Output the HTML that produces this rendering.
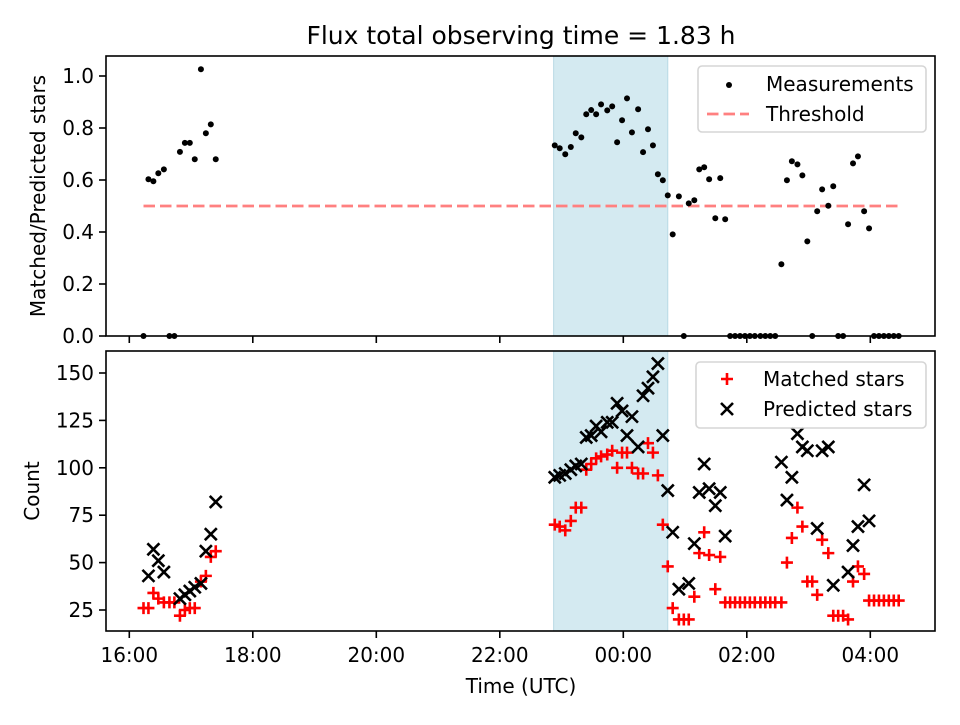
<!DOCTYPE html>
<html><head><meta charset="utf-8"><style>
html,body{margin:0;padding:0;background:#fff;}
svg text{font-family:"DejaVu Sans","Liberation Sans",sans-serif;fill:#000;}
</style></head><body>
<svg id="chart" width="960" height="720" viewBox="0 0 960 720" xmlns="http://www.w3.org/2000/svg">
<rect width="960" height="720" fill="#fff"/>
<text x="521" y="44" font-size="25" text-anchor="middle">Flux total observing time = 1.83 h</text>
<g id="top"></g>
<g id="bot"></g>
</svg>
<script>
// hours since 16:00 UTC
const hours=[0.23,0.31,0.39,0.47,0.56,0.65,0.73,0.82,0.90,0.98,1.06,1.16,1.24,1.32,1.40,
6.89,6.97,7.06,7.15,7.23,7.32,7.40,7.48,7.56,7.64,7.74,7.82,7.90,7.98,8.06,8.14,8.24,8.32,8.40,8.48,8.56,8.64,8.72,8.80,8.90,8.98,9.06,9.15,9.23,9.31,9.39,9.49,9.57,9.65,
9.73,9.81,9.89,9.97,10.05,10.13,10.22,10.30,10.38,10.46,
10.56,10.65,10.73,10.82,10.90,10.98,11.06,11.14,11.22,11.32,11.40,11.48,11.56,11.64,11.72,11.80,11.90,11.98,
12.06,12.14,12.22,12.30,12.38,12.46];
const ratio=[0,0.603,0.595,0.626,0.641,0,0,0.708,0.743,0.743,0.680,1.026,0.780,0.814,0.680,
0.733,0.722,0.699,0.727,0.780,0.764,0.853,0.869,0.853,0.891,0.868,0.883,0.745,0.830,0.914,0.783,0.872,0.707,0.795,0.733,0.622,0.599,0.541,0.391,0.537,0,0.510,0.522,0.641,0.649,0.603,0.453,0.607,0.449,
0,0,0,0,0,0,0,0,0,0,
0.276,0.599,0.672,0.660,0.618,0.364,0,0.480,0.564,0.501,0.576,0,0,0.430,0.664,0.691,0.480,0.414,
0,0,0,0,0,0];
const matched=[26,26,34,31,29,29,29,22,25,26,26,40,43,53,56,
70,69,67,72,79,79,99,102,105,106,107,109,100,108,108,100,97,97,113,108,96,70,48,26,20,20,20,32,55,66,54,36,53,29,
29,29,29,29,29,29,29,29,29,29,
29,50,63,79,69,40,40,33,62,55,22,22,22,20,40,48,44,30,
30,30,30,30,30,30];
const predicted=[null,43,57,51,45,null,null,31,33,35,37,39,56,65,82,
95,96,97,99,101,102,116,117,122,119,124,124,134,130,117,127,111,138,142,148,155,117,88,66,36,null,39,60,87,102,89,80,87,64,
null,null,null,null,null,null,null,null,null,null,
103,83,95,118,111,109,null,68,109,111,38,null,null,45,59,69,91,72,
null,null,null,null,null,null];
const threshold=0.5;
const spanStart=6.872, spanEnd=8.72;
const xTickHours=[0,2,4,6,8,10,12];
const xTickLabels=["16:00","18:00","20:00","22:00","00:00","02:00","04:00"];
const topTicks=[0,0.2,0.4,0.6,0.8,1.0];
const topTickLabels=["0.0","0.2","0.4","0.6","0.8","1.0"];
const botTicks=[25,50,75,100,125,150];

const NS="http://www.w3.org/2000/svg";
function mk(parent,tag,attrs){const e=document.createElementNS(NS,tag);for(const k in attrs)e.setAttribute(k,attrs[k]);parent.appendChild(e);return e;}
const L=106,R=935;
const xS=h=>129.3+h*61.75;
const T={top:56,bot:336}, B={top:351,bot:631};
const yTop=v=>336-v*260;
const yBot=v=>610-(v-25)*1.896;

function axes(g,box,yS,ticks,labels,name){
  const sp=mk(g,'rect',{x:xS(spanStart),y:box.top,width:xS(spanEnd)-xS(spanStart),height:box.bot-box.top,fill:'#d4eaf1',stroke:'#b8d9e4','stroke-width':1});
  
  
  ticks.forEach((t,i)=>{
    const y=yS(t);
    const tk=mk(g,'line',{x1:L-7,x2:L,y1:y,y2:y,stroke:'#000','stroke-width':1.6});
    
    
    const tl=mk(g,'text',{x:L-12,y:y+7,'font-size':20,'text-anchor':'end'});
    tl.textContent=labels[i];
    
    
  });
  xTickHours.forEach((h,i)=>{
    const x=xS(h);
    const tk=mk(g,'line',{x1:x,x2:x,y1:box.bot,y2:box.bot+7,stroke:'#000','stroke-width':1.6});
    
    
  });
}
function frame(g,box,name){
  const f=mk(g,'rect',{x:L,y:box.top,width:R-L,height:box.bot-box.top,fill:'none',stroke:'#000','stroke-width':1.6});
  
  
}
function plus(g,x,y,c){const p=mk(g,'path',{d:`M${x-6},${y}H${x+6}M${x},${y-6}V${y+6}`,stroke:c,'stroke-width':2.6,fill:'none'});return p;}
function cross(g,x,y,c){const p=mk(g,'path',{d:`M${x-6},${y-6}L${x+6},${y+6}M${x-6},${y+6}L${x+6},${y-6}`,stroke:c,'stroke-width':2.6,fill:'none'});return p;}

// TOP
const gt=document.getElementById('top');
axes(gt,T,yTop,topTicks,topTickLabels,'ratio');
const th=mk(gt,'line',{x1:xS(hours[0]),x2:xS(hours[hours.length-1]),y1:yTop(threshold),y2:yTop(threshold),stroke:'#ff8080','stroke-width':2.8,'stroke-dasharray':'11.5,5'});


hours.forEach((h,i)=>{
  const c=mk(gt,'circle',{cx:xS(h),cy:yTop(ratio[i]),r:3,fill:'#000'});
  
  
});
frame(gt,T,'ratio');
const yl1=mk(gt,'text',{x:0,y:0,'font-size':20,'text-anchor':'middle',transform:'translate(45,196) rotate(-90)'});
yl1.textContent='Matched/Predicted stars';


// legend top
const lg1=mk(gt,'g',{});


mk(lg1,'rect',{x:698,y:66,width:228,height:66,rx:4,fill:'#fff','fill-opacity':0.8,stroke:'#d5d5d5','stroke-width':1.6});
const le1=mk(lg1,'circle',{cx:729,cy:85,r:3,fill:'#000'});


const lt1=mk(lg1,'text',{x:766,y:91,'font-size':20});lt1.textContent='Measurements';


const le2=mk(lg1,'line',{x1:707,x2:749,y1:114,y2:114,stroke:'#ff8080','stroke-width':2.8,'stroke-dasharray':'11.5,5'});


const lt2=mk(lg1,'text',{x:766,y:121,'font-size':20});lt2.textContent='Threshold';



// BOTTOM
const gb=document.getElementById('bot');
axes(gb,B,yBot,botTicks,botTicks.map(String),'count');
hours.forEach((h,i)=>{
  if(matched[i]==null)return;
  const p=plus(gb,xS(h),yBot(matched[i]),'#ff0000');
  
  
});
hours.forEach((h,i)=>{
  if(predicted[i]==null)return;
  const p=cross(gb,xS(h),yBot(predicted[i]),'#000');
  
  
});
frame(gb,B,'count');
xTickHours.forEach((h,i)=>{
  const t=mk(gb,'text',{x:xS(h),y:B.bot+31,'font-size':20,'text-anchor':'middle'});
  t.textContent=xTickLabels[i];
  
  
});
const yl2=mk(gb,'text',{x:0,y:0,'font-size':20,'text-anchor':'middle',transform:'translate(39,491) rotate(-90)'});
yl2.textContent='Count';


const xl=mk(gb,'text',{x:521,y:693,'font-size':20,'text-anchor':'middle'});
xl.textContent='Time (UTC)';


const lg2=mk(gb,'g',{});


mk(lg2,'rect',{x:696,y:362,width:230,height:66,rx:4,fill:'#fff','fill-opacity':0.8,stroke:'#d5d5d5','stroke-width':1.6});
const m1=plus(lg2,727,379,'#ff0000');


const t1=mk(lg2,'text',{x:763,y:386,'font-size':20});t1.textContent='Matched stars';


const m2=cross(lg2,727,409,'#000');


const t2=mk(lg2,'text',{x:763,y:416,'font-size':20});t2.textContent='Predicted stars';


</script>
</body></html>
